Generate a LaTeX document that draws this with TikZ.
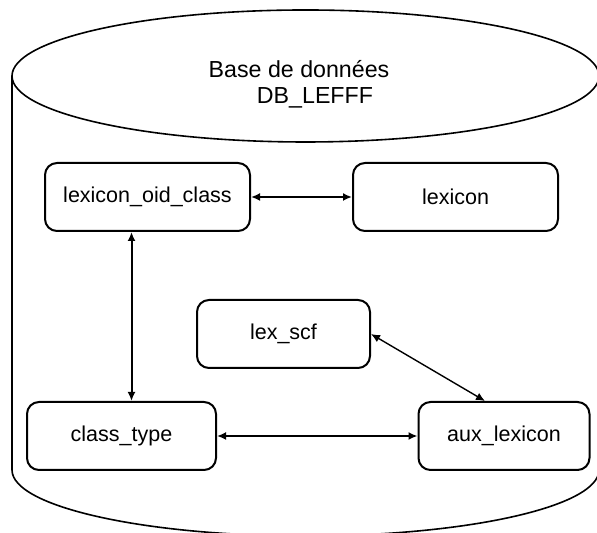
\documentclass[tikz,border=0pt]{standalone}
\usepackage{fontspec}
\setmainfont{Liberation Sans}
\usetikzlibrary{arrows.meta, positioning}

\begin{document}
\begin{tikzpicture}[x=0.5pt, y=0.5pt, >={Latex[length=4.5pt, width=4pt]},
                    line cap=round, line join=round,
                    font=\fontsize{10.75}{13}\selectfont,
                    tablebox/.style={draw, line width=1pt, rounded corners=6pt,
                                     minimum height=34pt, inner sep=0pt},
                    link/.style={<->, line width=1pt}]

\clip (0,0) rectangle (597,533);

% Cylinder
\draw[line width=0.8pt] (305.5,457) ellipse [x radius=293.5, y radius=66];
\draw[line width=0.8pt] (12,457) -- (12,63)
  arc[start angle=180, end angle=360, x radius=293.5, y radius=66] -- (599,457);

\node[font=\fontsize{11.6}{14}\selectfont] (dbtitle) at (299,464) {Base de données};
\node[font=\fontsize{11.6}{14}\selectfont] (dbname) at (315,435) {DB\_LEFFF};

% Tables
\node[tablebox, minimum width=102.5pt] (lexoid) at (147.5,336) {lexicon\_oid\_class};
\node[tablebox, minimum width=102.5pt, right=50.5pt of lexoid] (lexicon) {lexicon};
\node[tablebox, minimum width=86.5pt] (lexscf) at (283.5,199) {lex\_scf};
\node[tablebox, minimum width=94.5pt] (classtype) at (121.5,97) {class\_type};
\node[tablebox, minimum width=85.5pt] (auxlex) at (504,97) {aux\_lexicon};

% Links
\draw[link] (lexoid.east) -- (lexicon.west);
\draw[link] ([xshift=-8pt]lexoid.south) -- ([xshift=-8pt]lexoid.south |- classtype.north);
\draw[link] (classtype.east) -- (auxlex.west);
\draw[<->, line width=0.7pt] (lexscf.east) -- ([xshift=-9.5pt]auxlex.north);

\end{tikzpicture}
\end{document}
